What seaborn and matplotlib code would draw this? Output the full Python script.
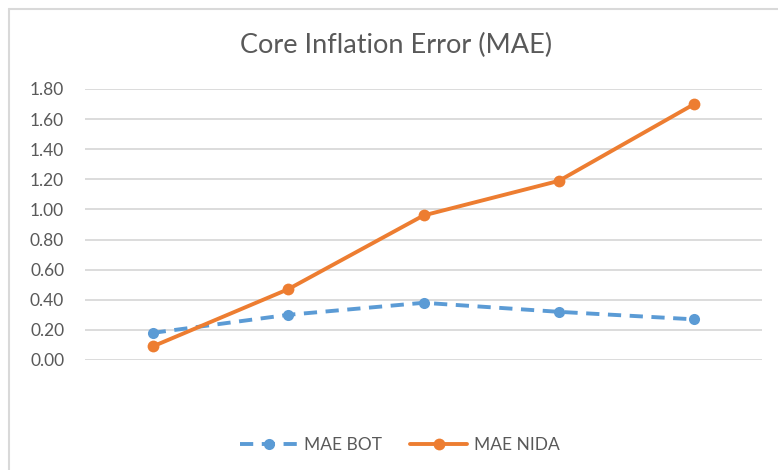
import matplotlib
matplotlib.use("Agg")
import matplotlib.pyplot as plt
import seaborn as sns
import pandas as pd
from matplotlib.lines import Line2D

categories = ["1", "2", "3", "4", "5"]
mae_bot = [0.18, 0.30, 0.38, 0.32, 0.27]
mae_nida = [0.09, 0.47, 0.96, 1.19, 1.70]
yticks = [0.0, 0.2, 0.4, 0.6, 0.8, 1.0, 1.2, 1.4, 1.6, 1.8]

sns.set_theme(style="white")
plt.rcParams["font.family"] = ["Lato", "DejaVu Sans"]

BLUE = "#5B9BD5"
ORANGE = "#ED7D31"
GRID = "#D9D9D9"
TXT = "#595959"

df = pd.DataFrame({"x": list(range(len(categories))) * 2,
                   "value": mae_bot + mae_nida,
                   "series": ["MAE BOT"] * 5 + ["MAE NIDA"] * 5})

fig = plt.figure(figsize=(7.78, 4.70), dpi=100)
W, H = 778, 470
ax = fig.add_axes([85 / W, 1 - 360 / H, (762 - 85) / W, (360 - 89) / H])

LW = 2.8
DASH = [3.4, 2.2]
sns.lineplot(data=df[df.series == "MAE BOT"], x="x", y="value", ax=ax,
             color=BLUE, lw=LW, marker="o", markersize=8, markeredgewidth=0,
             dashes=False, legend=False)
ax.lines[-1].set_dashes(DASH)
sns.lineplot(data=df[df.series == "MAE NIDA"], x="x", y="value", ax=ax,
             color=ORANGE, lw=LW, marker="o", markersize=8.5, markeredgewidth=0,
             legend=False)

ax.set_xlim(-0.5, 4.5)
ax.set_ylim(0, 1.8)
ax.set_yticks(yticks)
ax.set_yticklabels([f"{v:.2f}" for v in yticks], fontsize=12.5, color=TXT)
ax.set_xticks([])
ax.set_xlabel("")
ax.set_ylabel("")
ax.tick_params(axis="y", length=0, pad=15)
ax.grid(axis="y", color=GRID, lw=1.3)
ax.set_axisbelow(True)
for s in ax.spines.values():
    s.set_visible(False)
for ln in ax.lines:
    ln.set_clip_on(False)

fig.text(396 / W, 1 - 45 / H, "Core Inflation Error (MAE)", ha="center", va="center",
         fontsize=19.5, color=TXT)

handles = [Line2D([], [], color=BLUE, lw=LW, dashes=DASH, marker="o",
                  markersize=8, markeredgewidth=0),
           Line2D([], [], color=ORANGE, lw=LW, marker="o", markersize=8.5,
                  markeredgewidth=0)]
fig.legend(handles, ["MAE BOT", "MAE NIDA"], loc="center", ncol=2,
           bbox_to_anchor=(400 / W, 1 - 445 / H), frameon=False, fontsize=12.5,
           labelcolor=TXT, handlelength=3.3, columnspacing=1.6, handletextpad=0.4)

# chart-area border (top and left visible)
fig.add_artist(Line2D([9 / W, 9 / W], [0, 1 - 9 / H], transform=fig.transFigure,
                      color=GRID, lw=1.5))
fig.add_artist(Line2D([9 / W, 1], [1 - 9 / H, 1 - 9 / H], transform=fig.transFigure,
                      color=GRID, lw=1.5))

fig.savefig("out.png", dpi=100, facecolor="white")
